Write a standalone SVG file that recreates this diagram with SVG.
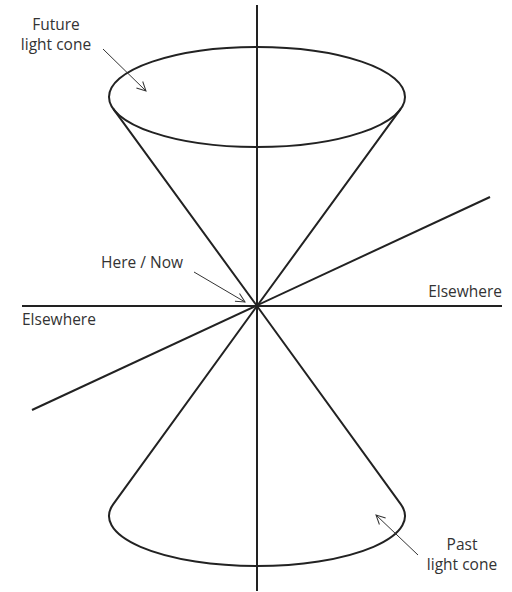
<svg xmlns="http://www.w3.org/2000/svg" width="512" height="592" viewBox="0 0 512 592">
<defs>
<style>
.ax{stroke:#222;stroke-width:2;fill:none;stroke-linecap:butt}
.cone{stroke:#222;stroke-width:2;fill:none;stroke-linejoin:round}
.ptr{stroke:#333;stroke-width:1;fill:none}
.lbl{font-family:"Open Sans","Liberation Sans",sans-serif;font-size:15.5px;fill:#333}
</style>
<marker id="ah" viewBox="0 0 12 12" refX="11" refY="6" markerWidth="12" markerHeight="12" markerUnits="userSpaceOnUse" orient="auto">
<path d="M2,1.5 L11,6 L2,10.5" fill="none" stroke="#333" stroke-width="1"/>
</marker>
</defs>
<rect width="512" height="592" fill="#fff"/>
<g id="axes">
<line class="ax" x1="257" y1="5" x2="257" y2="591"/>
<line class="ax" x1="22" y1="306" x2="502" y2="306"/>
<line class="ax" x1="32" y1="410" x2="490" y2="197"/>
</g>
<g id="future-cone">
<ellipse class="cone" cx="257" cy="97" rx="148" ry="50"/>
<path class="cone" d="M113.3,108.9 L257,306 L400.7,108.9"/>
</g>
<g id="past-cone">
<path class="cone" d="M257,306 L113.3,504.1 A148,50 0 1 0 400.7,504.1 Z"/>
</g>
<g id="connectors">
<line class="ptr" x1="103" y1="49" x2="146" y2="91" marker-end="url(#ah)"/>
<line class="ptr" x1="194" y1="272" x2="245" y2="302" marker-end="url(#ah)"/>
<line class="ptr" x1="418" y1="555" x2="376" y2="515" marker-end="url(#ah)"/>
</g>
<g id="future-label">
<text class="lbl" x="56" y="30" text-anchor="middle">Future</text>
<text class="lbl" x="56" y="50" text-anchor="middle">light cone</text>
</g>
<g id="here-now-label">
<text class="lbl" x="183" y="268" text-anchor="end">Here / Now</text>
</g>
<g id="elsewhere-right">
<text class="lbl" x="502" y="297" text-anchor="end">Elsewhere</text>
</g>
<g id="elsewhere-left">
<text class="lbl" x="22" y="325">Elsewhere</text>
</g>
<g id="past-label">
<text class="lbl" x="462" y="550" text-anchor="middle">Past</text>
<text class="lbl" x="462" y="570" text-anchor="middle">light cone</text>
</g>
</svg>
